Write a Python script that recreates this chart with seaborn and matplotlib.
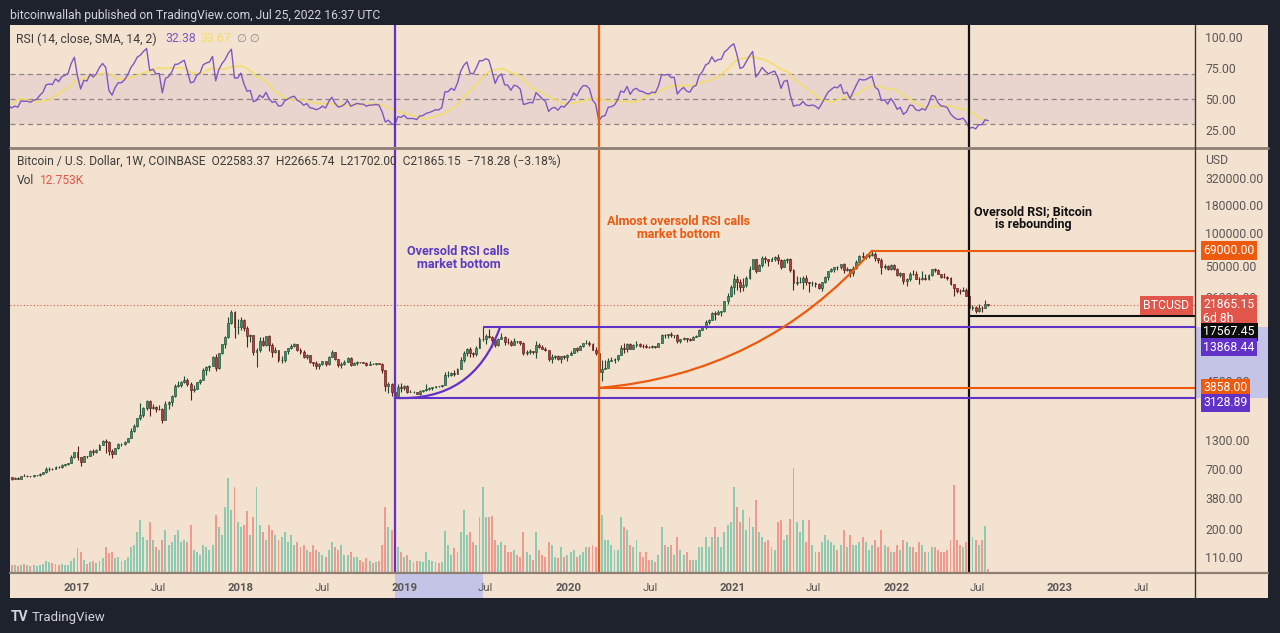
import numpy as np
import pandas as pd
import matplotlib
matplotlib.use('Agg')
import matplotlib.pyplot as plt
import matplotlib.dates as mdates
import matplotlib.transforms as mtransforms
from matplotlib.patches import Rectangle
from matplotlib.lines import Line2D
from matplotlib.ticker import NullLocator
import seaborn as sns

# ----------------------------------------------------------------------
# Data: weekly BTCUSD (Coinbase), one candle per week starting Monday
# ----------------------------------------------------------------------
FIRST_WEEK = '2016-08-01'

# closes Jan..Jul 2016, left of the visible window, only warm up the RSI
warmup_close = [448, 387, 402, 378, 376, 407, 438, 433, 398, 413,
                411, 417, 420, 420, 428, 458, 448, 459, 455, 440,
                530, 575, 705, 760, 665, 660, 650, 665, 655, 624]

week_close = [
    # 2016
    591, 568, 580, 572, 610, 608, 609, 602, 613, 617, 638, 655, 700, 705, 703, 740, 730, 765, 775, 790, 895, 1000,
    # 2017
    905, 820, 925, 920, 1020, 1000, 1050, 1175, 1270, 1240, 1020, 960, 1090, 1180, 1180, 1240, 1350, 1560, 1720,
    2050, 2200, 2550, 2960, 2510, 2590, 2480, 2500, 1960, 2750, 2870, 3230, 4050, 4080, 4350, 4600, 4200, 3700,
    3780, 4380, 4600, 5680, 6000, 6150, 7400, 5850, 8000, 9700, 11300, 15000, 19100, 13800, 13800,
    # 2018
    16200, 13600, 11500, 11800, 8200, 8600, 10400, 9600, 11500, 9500, 8200, 8500, 6900, 7000, 8350, 8900, 9400,
    9650, 8600, 8200, 7350, 7700, 6650, 6500, 6150, 6350, 6750, 6350, 7400, 8200, 7050, 6300, 6400, 6700, 7300,
    6300, 6500, 6700, 6600, 6580, 6290, 6420, 6400, 6480, 6400, 5600, 4000, 4150, 3540, 3240, 3950, 3850, 4020,
    # 2019
    3550, 3550, 3550, 3410, 3640, 3670, 3800, 3850, 3920, 4000, 3990, 4100, 5050, 5060, 5300, 5200, 5750, 7000,
    8000, 8700, 8000, 7950, 8990, 10800, 10800, 11450, 11350, 10550, 9500, 10800, 11300, 10200, 10150, 9600,
    10400, 10300, 10000, 8050, 8150, 8300, 8250, 9550, 9200, 8800, 8500, 7050, 7400, 7500, 7100, 7500, 7400, 7750,
    # 2020
    8100, 8900, 8600, 9350, 9900, 9900, 9650, 8550, 8050, 5350, 5800, 5900, 6850, 6900, 7100, 7700, 8900, 8750,
    9650, 8720, 9450, 9650, 9350, 9300, 9100, 9050, 9250, 9200, 9950, 11800, 11750, 11900, 11650, 11700, 10250,
    10750, 11100, 10750, 10650, 11300, 11500, 13050, 13800, 15500, 16050, 18700, 18200, 19150, 19250, 23800,
    26500, 32200,
    # 2021
    38150, 35800, 32300, 33500, 39200, 47100, 57500, 45200, 50900, 59700, 57500, 55800, 58200, 59800, 56200,
    49000, 57200, 58300, 46400, 34700, 35700, 35800, 39000, 35500, 34700, 35300, 34250, 31800, 35400, 39850,
    44600, 47000, 49300, 48800, 51800, 46000, 47300, 42800, 48200, 54700, 61500, 61000, 61300, 63300, 65000,
    58700, 57300, 49400, 50100, 46700, 50800, 47300,
    # 2022
    41800, 43100, 36300, 37900, 42400, 42200, 38400, 37700, 38900, 37800, 41200, 46800, 46400, 42200, 39700,
    39500, 38500, 34100, 31300, 29500, 29400, 29900, 26600, 20550, 21000, 19300, 20850, 20800, 22583.37, 21865.15,
]

week_high = [
    # 2016
    612, 600, 590, 588, 612, 632, 615, 610, 615, 620, 642, 660, 740, 740, 718, 755, 750, 780, 780, 795, 935, 1005,
    # 2017
    1150, 910, 930, 930, 1040, 1070, 1060, 1200, 1295, 1330, 1260, 1060, 1100, 1210, 1210, 1260, 1360, 1650, 1800,
    2070, 2790, 2600, 3000, 3000, 2780, 2620, 2680, 2550, 2950, 2920, 3300, 4200, 4490, 4460, 4980, 4750, 4400,
    4130, 4400, 4620, 5850, 6150, 6200, 7600, 7880, 8100, 9750, 11400, 17000, 19890, 19300, 16400,
    # 2018
    17250, 16300, 14200, 11900, 11700, 9000, 11250, 11300, 11600, 11700, 9900, 9200, 8550, 7500, 8400, 9000, 9750,
    9950, 9650, 8880, 8500, 7800, 7750, 6700, 6800, 6450, 6780, 6800, 7550, 8500, 8200, 7150, 6650, 6950, 7400,
    7400, 6600, 6800, 6700, 6700, 6650, 6800, 6470, 6500, 6550, 6450, 5600, 4400, 4300, 3600, 4200, 4250, 4100,
    # 2019
    4100, 3720, 3650, 3520, 3700, 3690, 4200, 3910, 3950, 4020, 4050, 4130, 5340, 5470, 5370, 5640, 5900, 7450,
    8300, 8900, 9100, 8200, 9300, 11200, 13880, 12100, 13200, 11400, 10650, 11000, 12300, 11450, 10950, 10600,
    10900, 10450, 10350, 10050, 8500, 8800, 8450, 10350, 9850, 9500, 9050, 8600, 7850, 7750, 7650, 7600, 7700, 7800,
    # 2020
    8450, 9000, 9200, 9600, 9950, 10500, 10250, 9950, 9200, 8050, 6950, 6950, 7200, 7450, 7200, 7750, 9450, 10000,
    9950, 9900, 9750, 10400, 9950, 9650, 9800, 9350, 9450, 9300, 10000, 12100, 11900, 12100, 12500, 11800, 12100,
    10800, 11150, 10900, 10950, 11400, 11750, 13350, 14000, 15950, 16450, 18900, 19500, 19900, 19450, 24200,
    28400, 33300,
    # 2021
    42000, 40100, 37800, 38500, 40900, 49700, 58300, 57500, 52600, 61700, 61200, 58500, 60000, 61200, 64900,
    57500, 58500, 59500, 59600, 46600, 40900, 39500, 40900, 41300, 35700, 36700, 35400, 34700, 35450, 40550,
    45300, 48200, 49400, 50500, 52000, 52900, 48900, 47400, 49500, 56600, 62800, 67000, 63800, 65500, 69000,
    66400, 59400, 59200, 51900, 51500, 51900, 52100,
    # 2022
    47500, 44400, 43500, 38900, 44500, 45800, 44800, 40000, 45400, 42500, 42300, 46900, 48200, 47200, 42400,
    42900, 40800, 40000, 34200, 31300, 30600, 32200, 31500, 26800, 21900, 21500, 22500, 21600, 24300, 22665.74,
]

week_low = [
    # 2016
    480, 560, 565, 565, 565, 603, 600, 592, 598, 608, 610, 632, 650, 680, 695, 700, 725, 725, 750, 765, 790, 880,
    # 2017
    850, 750, 810, 880, 915, 950, 985, 1040, 1170, 980, 950, 890, 960, 1080, 1140, 1170, 1240, 1340, 1530,
    1690, 1950, 2100, 2450, 2140, 2460, 2350, 2450, 1850, 1950, 2500, 2650, 3200, 3950, 3950, 4300, 4000, 2980,
    3560, 3870, 4150, 4580, 5100, 5500, 6100, 5500, 5800, 7950, 9000, 11100, 14900, 10900, 12100,
    # 2018
    12900, 12700, 9200, 10100, 7700, 6000, 8200, 9300, 9400, 8300, 7400, 8000, 6600, 6450, 6600, 7900, 8700,
    9050, 8350, 7950, 7200, 7050, 6500, 6100, 5800, 5780, 6250, 6080, 6300, 7350, 6900, 6000, 5900, 6250, 6650,
    6100, 6200, 6300, 6450, 6500, 6100, 6300, 6380, 6250, 6350, 5300, 3600, 3500, 3270, 3128.89, 3230, 3550, 3700,
    # 2019
    3500, 3520, 3480, 3370, 3350, 3560, 3650, 3720, 3700, 3850, 3900, 3920, 4100, 4900, 4950, 4950, 5150, 5700,
    6600, 7500, 7450, 7450, 7550, 8950, 10350, 9650, 11000, 9100, 9150, 9400, 10700, 9500, 9800, 9350,
    9600, 9900, 9600, 7700, 7750, 7900, 7900, 7300, 8950, 8700, 8350, 6800, 6550, 7150, 7000, 6450, 7100, 6850,
    # 2020
    7700, 8050, 8250, 8520, 9150, 9750, 9300, 8500, 7650, 3858, 4450, 5700, 5900, 6750, 6500, 6800, 7650, 8100,
    8200, 8700, 8650, 9200, 9050, 8950, 8850, 8950, 9000, 9000, 9150, 9900, 10950, 11100, 11350, 11100, 9850,
    9900, 10600, 10150, 10400, 10550, 11200, 11400, 12950, 13200, 14800, 15950, 16200, 18000, 17600, 19000,
    22300, 26000,
    # 2021
    27700, 30400, 28800, 29300, 32300, 38000, 46900, 43000, 44900, 49300, 53200, 50400, 55500, 55500, 51600,
    47000, 48800, 52900, 43800, 30000, 33400, 34800, 31000, 33400, 28800, 32700, 32100, 31100, 29300, 35250,
    37500, 43700, 43900, 46300, 46500, 42800, 44700, 39600, 40900, 46900, 53900, 59500, 58000, 59500, 62300,
    55600, 53600, 42000, 47300, 45500, 45500, 45700,
    # 2022
    40600, 39700, 34000, 32900, 36250, 41800, 38000, 34300, 37500, 37200, 37500, 40500, 44200, 41900, 39200,
    38500, 37600, 33700, 26700, 28600, 28000, 29300, 26500, 17567.45, 19900, 18650, 19050, 18900, 20700, 21702.00,
]

# weekly volume, thousands of BTC
week_volume = [
    # 2016
    50, 30, 28, 26, 30, 32, 28, 26, 28, 26, 30, 34, 44, 40, 36, 34, 30, 34, 30, 28, 44, 56,
    # 2017
    96, 80, 48, 34, 40, 44, 36, 46, 56, 100, 76, 80, 56, 60, 44, 48, 60, 100, 108, 160, 210, 140, 130, 200, 130,
    100, 90, 130, 170, 110, 120, 150, 170, 120, 130, 120, 190, 90, 80, 70, 110, 100, 90, 110, 230, 180, 150, 260,
    376, 250, 340, 200,
    # 2018
    180, 190, 245, 150, 220, 340, 190, 160, 130, 190, 170, 150, 130, 140, 160, 120, 150, 110, 120, 100, 110, 90,
    80, 110, 90, 80, 70, 60, 90, 120, 100, 90, 110, 70, 70, 80, 60, 60, 50, 40, 55, 45, 35, 40, 45, 110, 260, 180,
    170, 160, 100, 80, 60,
    # 2019
    70, 50, 40, 45, 45, 40, 80, 50, 45, 40, 35, 40, 165, 110, 70, 95, 80, 160, 250, 150, 160, 120, 110, 220, 340,
    220, 220, 225, 130, 110, 120, 110, 80, 80, 90, 70, 60, 160, 80, 70, 50, 160, 90, 70, 60, 120, 110, 60, 55, 100,
    60, 70,
    # 2020
    80, 90, 60, 70, 80, 100, 100, 110, 100, 365, 230, 130, 130, 110, 90, 90, 220, 180, 170, 110, 100, 130, 80, 60,
    80, 50, 50, 40, 70, 180, 110, 100, 110, 70, 140, 90, 70, 80, 50, 50, 50, 100, 100, 140, 100, 140, 180, 140, 100,
    160, 190, 200,
    # 2021
    340, 260, 200, 250, 170, 220, 180, 290, 160, 140, 120, 130, 100, 90, 200, 210, 130, 150, 212, 416, 200, 160,
    210, 120, 210, 110, 80, 80, 120, 150, 130, 120, 110, 90, 110, 170, 100, 150, 110, 110, 120, 140, 120, 90, 110,
    130, 100, 170, 110, 100, 80, 80,
    # 2022
    110, 90, 130, 120, 100, 100, 80, 120, 110, 80, 80, 100, 100, 90, 80, 80, 90, 130, 350, 130, 110, 100, 120, 360,
    140, 130, 110, 130, 185, 12.753,
]

# 8000 and 2500 sit under the price tags on the reference, so only these show
PRICE_TICKS = [110, 200, 380, 700, 1300, 4500, 26000, 50000, 100000, 180000, 320000]
RSI_TICKS = [25, 50, 75, 100]
EVENT_DATES = {'purple': '2018-12-10', 'orange': '2020-03-09', 'black': '2022-06-13'}

# ----------------------------------------------------------------------
# Style
# ----------------------------------------------------------------------
DARK = '#1e222d'
PEACH = '#f4e2d0'
PURPLE = '#6232c8'
ORANGE = '#ec5a10'
RED = '#e0564a'
TXT = '#3c3c3c'
AXTXT = '#5a5656'
SHADE = '#c3c4e6'
UP, UP_EDGE = '#3f9166', '#1d4a33'
DOWN, DOWN_EDGE = '#b53c38', '#5c1c1a'
VOL_UP, VOL_DOWN = '#8ccbb2', '#f0998f'
FS_AX = 8.8

sns.set_theme(style='white')
plt.rcParams['font.family'] = ['Roboto', 'DejaVu Sans']

W, H = 1280, 633


def fx(px):
    return px / W


def fy(py):
    return 1 - py / H


def box(x0, y0, x1, y1):
    return [fx(x0), fy(y1), (x1 - x0) / W, (y1 - y0) / H]


# ----------------------------------------------------------------------
# Derived series
# ----------------------------------------------------------------------
dates = pd.date_range(FIRST_WEEK, periods=len(week_close), freq='7D')
x = mdates.date2num(dates)
closes = np.array(week_close, dtype=float)
opens = np.array([warmup_close[-1]] + week_close[:-1], dtype=float)
highs = np.maximum.reduce([np.array(week_high, dtype=float), opens, closes])
lows = np.minimum.reduce([np.array(week_low, dtype=float), opens, closes])
is_up = closes >= opens

# RSI(14) with RMA smoothing, plus its 14-period SMA
all_close = pd.Series(warmup_close + week_close, dtype=float)
chg = all_close.diff()
gain = chg.clip(lower=0).ewm(alpha=1 / 14, adjust=False).mean()
loss = (-chg.clip(upper=0)).ewm(alpha=1 / 14, adjust=False).mean()
rsi_all = 100 - 100 / (1 + gain / loss)
rsi_ma_all = rsi_all.rolling(14).mean()
rsi = rsi_all.iloc[-len(week_close):].to_numpy()
rsi_ma = rsi_ma_all.iloc[-len(week_close):].to_numpy()

# ----------------------------------------------------------------------
# Figure / panes
# ----------------------------------------------------------------------
fig = plt.figure(figsize=(12.8, 6.33), dpi=100, facecolor=DARK)
fig.patches.append(Rectangle((fx(10), fy(598)), 1258 / W, 573 / H, transform=fig.transFigure,
                             facecolor=PEACH, edgecolor='none', zorder=-10))

ax_rsi = fig.add_axes(box(10, 25, 1195, 147))
ax_price = fig.add_axes(box(10, 149, 1195, 572), sharex=ax_rsi)
ax_vol = ax_price.twinx()
ax_vol.set_zorder(-1)
for a in (ax_rsi, ax_price, ax_vol):
    a.patch.set_visible(False)
    for s in a.spines.values():
        s.set_visible(False)

xmin = mdates.date2num(pd.Timestamp('2016-08-04 12:00'))
xmax = mdates.date2num(pd.Timestamp('2023-10-29'))

# ---- volume ----
ax_vol.bar(x, week_volume, width=4.3, color=np.where(is_up, VOL_UP, VOL_DOWN), linewidth=0)
ax_vol.set_ylim(0, 4 * 423)
ax_vol.set_yticks([])

# ---- candles ----
ax_price.vlines(x, lows, highs, colors=np.where(is_up, UP_EDGE, DOWN_EDGE), linewidth=0.8, zorder=3)
ax_price.bar(x, np.abs(closes - opens), bottom=np.minimum(opens, closes), width=4.3,
             color=np.where(is_up, UP, DOWN), edgecolor=np.where(is_up, UP_EDGE, DOWN_EDGE),
             linewidth=0.45, zorder=4)

ax_price.set_yscale('log')
ax_price.set_ylim(80.7, 584000)
ax_price.set_xlim(xmin, xmax)
ax_price.yaxis.tick_right()
ax_price.set_yticks(PRICE_TICKS)
ax_price.set_yticklabels([f'{t:.2f}' for t in PRICE_TICKS])
ax_price.yaxis.set_minor_locator(NullLocator())
ax_price.tick_params(axis='y', length=0, pad=7.5, labelsize=FS_AX, labelcolor=AXTXT)

# time axis labels
tick_dates, tick_labels = [], []
for yr in range(2017, 2024):
    tick_dates += [pd.Timestamp(f'{yr}-01-01'), pd.Timestamp(f'{yr}-07-01')]
    tick_labels += [str(yr), 'Jul']
ax_price.set_xticks(mdates.date2num(tick_dates))
ax_price.set_xticklabels(tick_labels)
ax_price.tick_params(axis='x', length=0, pad=8, labelsize=8.2, labelcolor=AXTXT)
for lab in ax_price.get_xticklabels():
    if lab.get_text() != 'Jul':
        lab.set_fontweight('bold')

# ---- event lines ----
ev = {k: mdates.date2num(pd.Timestamp(v)) for k, v in EVENT_DATES.items()}
for key, col in (('purple', PURPLE), ('orange', ORANGE), ('black', '#111111')):
    ax_price.axvline(ev[key], color=col, lw=1.6, zorder=5)
    ax_rsi.axvline(ev[key], color=col, lw=1.6, zorder=5)

jun19 = mdates.date2num(pd.Timestamp('2019-06-24'))
nov21 = mdates.date2num(pd.Timestamp('2021-11-08'))
ax_price.hlines(13868.44, jun19, xmax, color=PURPLE, lw=1.5, zorder=5)
ax_price.hlines(3128.89, ev['purple'], xmax, color=PURPLE, lw=1.5, zorder=5)
ax_price.hlines(3858.00, ev['orange'], xmax, color=ORANGE, lw=1.5, zorder=5)
ax_price.hlines(69000.00, nov21, xmax, color=ORANGE, lw=1.5, zorder=5)
ax_price.hlines(17567.45, ev['black'], xmax, color='#111111', lw=1.5, zorder=5)
ax_price.axhline(21865.15, color=RED, lw=0.8, ls=(0, (1, 2)), zorder=2)

# curved trend arcs
ax_price.annotate('', xy=(mdates.date2num(pd.Timestamp('2019-08-01')), 13500),
                  xytext=(ev['purple'], 3128.89),
                  arrowprops=dict(arrowstyle='-', color=PURPLE, lw=1.6, shrinkA=0, shrinkB=0,
                                  connectionstyle='arc3,rad=0.37'), zorder=5)
ax_price.annotate('', xy=(nov21, 69000), xytext=(ev['orange'], 3858.00),
                  arrowprops=dict(arrowstyle='-', color=ORANGE, lw=1.6, shrinkA=0, shrinkB=0,
                                  connectionstyle='arc3,rad=0.2'), zorder=5)

# text notes
ax_price.text(mdates.date2num(pd.Timestamp('2019-05-01')), 59000, 'Oversold RSI calls\nmarket bottom',
              color='#5a3cc0', fontsize=9.1, fontweight='bold', ha='center', va='center', linespacing=1.0)
ax_price.text(mdates.date2num(pd.Timestamp('2020-09-02')), 111000, 'Almost oversold RSI calls\nmarket bottom',
              color=ORANGE, fontsize=9.0, fontweight='bold', ha='center', va='center', linespacing=1.0)
ax_price.text(mdates.date2num(pd.Timestamp('2022-11-02')), 137000, 'Oversold RSI; Bitcoin\nis rebounding',
              color='#111111', fontsize=9.0, fontweight='bold', ha='center', va='center', linespacing=1.0)

# axis highlights (selected drawing range)
tr_axis_y = mtransforms.blended_transform_factory(ax_price.transAxes, ax_price.transData)
tr_time = mtransforms.blended_transform_factory(ax_price.transData, ax_price.transAxes)
ax_price.add_patch(Rectangle((1.0, 3128.89), 73 / 1185, 13868.44 - 3128.89, transform=tr_axis_y,
                             facecolor=SHADE, edgecolor='none', clip_on=False, zorder=0))
ax_price.add_patch(Rectangle((ev['purple'], -26 / 423), jun19 - ev['purple'], 26 / 423, transform=tr_time,
                             facecolor=SHADE, edgecolor='none', clip_on=False, zorder=0))


def axis_tag(value, text, fc, dy_px=0.0):
    ax_price.annotate(text, xy=(1, value), xycoords=tr_axis_y, xytext=(6, -dy_px * 0.72),
                      textcoords='offset points', ha='left', va='center', color='white', fontsize=FS_AX,
                      linespacing=1.05, bbox=dict(boxstyle='square,pad=0.22', fc=fc, ec='none'),
                      annotation_clip=False, zorder=8)


axis_tag(69000.00, '69000.00', ORANGE)
axis_tag(21865.15, '21865.15\n6d 8h', RED, dy_px=6)
axis_tag(17567.45, '17567.45', '#0d0d0d', dy_px=16)
axis_tag(13868.44, '13868.44', PURPLE, dy_px=20)
axis_tag(3858.00, '3858.00', ORANGE, dy_px=0)
axis_tag(3128.89, '3128.89', PURPLE, dy_px=5)
ax_price.annotate('BTCUSD', xy=(1, 21865.15), xycoords=tr_axis_y, xytext=(-4, 0), textcoords='offset points',
                  ha='right', va='center', color='white', fontsize=FS_AX,
                  bbox=dict(boxstyle='square,pad=0.25', fc=RED, ec='none'), annotation_clip=False, zorder=8)

# ---- RSI pane ----
ax_rsi.axhspan(30, 70, color='#7e57c2', alpha=0.09, lw=0)
for lvl in (30, 50, 70):
    ax_rsi.axhline(lvl, color='#8c8585', lw=0.9, ls=(0, (4, 3)))
sns.lineplot(x=x, y=rsi_ma, ax=ax_rsi, color='#f3dc6e', linewidth=1.4, alpha=0.85)
sns.lineplot(x=x, y=rsi, ax=ax_rsi, color='#7e57c2', linewidth=1.0)
ax_rsi.set_ylim(11.3, 109.7)
ax_rsi.set_xlim(xmin, xmax)
ax_rsi.yaxis.tick_right()
ax_rsi.set_yticks(RSI_TICKS)
ax_rsi.set_yticklabels([f'{t:.2f}' for t in RSI_TICKS])
ax_rsi.tick_params(axis='y', length=0, pad=7.5, labelsize=FS_AX, labelcolor=AXTXT)
ax_rsi.tick_params(axis='x', length=0, labelbottom=False)
ax_rsi.set_xlabel('')
ax_rsi.set_ylabel('')

# ---- separators ----
fig.add_artist(Line2D([fx(10), fx(1268)], [fy(148), fy(148)], color='#8e7e73', lw=2))
fig.add_artist(Line2D([fx(10), fx(1268)], [fy(573), fy(573)], color='#8e7e73', lw=1.6))
fig.add_artist(Line2D([fx(1195), fx(1195)], [fy(25), fy(598)], color='#3a3535', lw=1))

# ---- header / legend texts ----
fig.text(fx(10), fy(15), 'bitcoinwallah published on TradingView.com, Jul 25, 2022 16:37 UTC',
         color='#d1d4dc', fontsize=8.7, va='center')
fig.text(fx(16), fy(39), 'RSI (14, close, SMA, 14, 2)', color=TXT, fontsize=8.8, va='center')
fig.text(fx(165), fy(39), '32.38', color='#7e57c2', fontsize=8.8, va='center')
fig.text(fx(200), fy(39), '33.67', color='#f3dc6e', fontsize=8.8, va='center')
fig.text(fx(237), fy(39), '\u2205 \u2205', color='#8a8a8a', fontsize=8.2, va='center')
fig.text(fx(17), fy(161), 'Bitcoin / U.S. Dollar, 1W, COINBASE  O22583.37  H22665.74  L21702.00  '
         'C21865.15  \u2212718.28 (\u22123.18%)', color=TXT, fontsize=8.65, va='center')
fig.text(fx(17), fy(180), 'Vol', color=TXT, fontsize=8.65, va='center')
fig.text(fx(40), fy(180), '12.753K', color=RED, fontsize=8.65, va='center')
fig.text(fx(1205), fy(161), 'USD', color=AXTXT, fontsize=FS_AX, va='center')
fig.text(fx(11), fy(617), 'TV', color='#d1d4dc', fontsize=10, fontweight='bold', va='center')
fig.text(fx(32), fy(617), 'TradingView', color='#d1d4dc', fontsize=9.5, va='center')

fig.savefig('out.png', dpi=100, facecolor=DARK)
